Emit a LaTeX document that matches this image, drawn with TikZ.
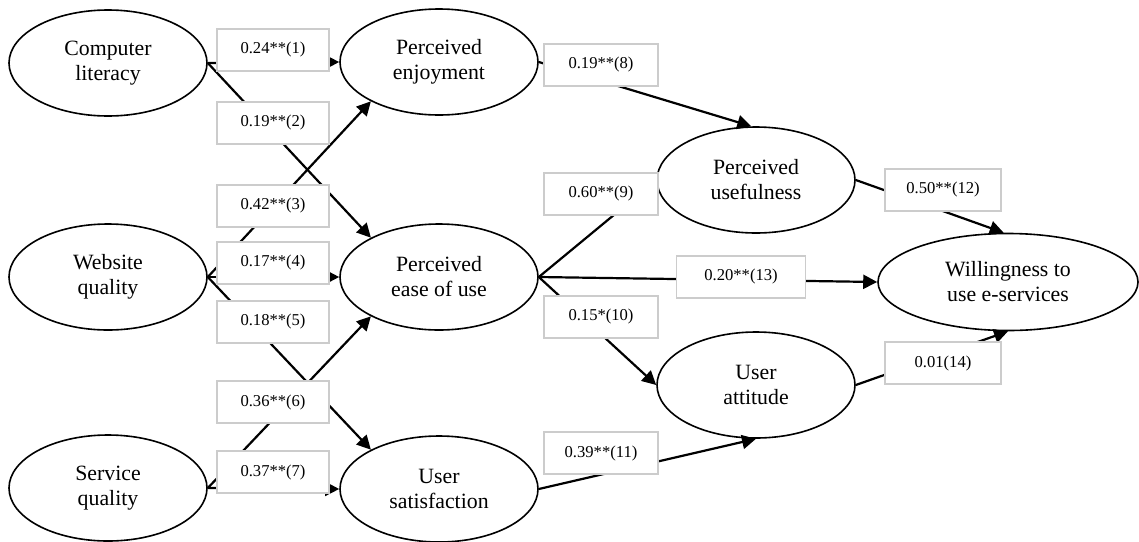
\documentclass[tikz,border=0pt]{standalone}
\usepackage{fontspec}
\setmainfont{Liberation Serif}
\usetikzlibrary{shapes.geometric}
\usetikzlibrary{arrows.meta}
\tikzset{latentvar/.style={ellipse, draw, line width=0.8pt, inner sep=0pt, minimum width=99pt, minimum height=53pt, align=center, font=\fontsize{10.9}{12.5}\selectfont } }
\tikzset{coefbox/.style={draw=black!20, line width=0.8pt, fill=white, inner sep=0pt, minimum width=56pt, minimum height=21pt, font=\fontsize{8.3}{10}\selectfont } }
\tikzset{effect/.style={line width=1.1pt, -{Triangle[length=7pt, width=7pt]} } }

\begin{document}
\begin{tikzpicture}[x=0.5pt, y=-0.5pt]
            \useasboundingbox (0,0) rectangle (1139,541);
            % constructs
            \node [latentvar] (cl) at (108,63) {Computer\\literacy};
            \node [latentvar] (wq) at (108,277) {Website\\quality};
            \node [latentvar] (sq) at (108,488) {Service\\quality};
            \node [latentvar] (pe) at (439,62) {Perceived\\enjoyment};
            \node [latentvar] (peou) at (439,277) {Perceived\\ease of use};
            \node [latentvar] (us) at (439,489) {User\\satisfaction};
            \node [latentvar] (pu) at (756,180) {Perceived\\usefulness};
            \node [latentvar] (ua) at (756,385) {User\\attitude};
            \node [latentvar, minimum width=130pt, minimum height=48.5pt] (wil) at (1008,282) {Willingness to\\use e-services};
            % paths
            \draw [effect] (cl.east)--(pe.west);
            \draw [effect] (cl.east)--(peou.150);
            \draw [effect] (wq.east)--(pe.210);
            \draw [effect] (wq.east)--(peou.west);
            \draw [effect] (wq.east)--(us.150);
            \draw [effect] (sq.east)--(peou.210);
            \draw [effect] (sq.east)--(us.west);
            \draw [effect] (pe.east)--(pu.95);
            \draw [effect] (peou.east)--(pu.west);
            \draw [effect] (peou.east)--(ua.west);
            \draw [effect] (us.east)--(ua.south);
            \draw [effect] (pu.east)--(wil.95);
            \draw [effect] (peou.east)--(wil.west);
            \draw [effect] (ua.east)--(wil.south);
            % coefficients
            \node [coefbox] (c1) at (273,50) {0.24**(1)};
            \node [coefbox] (c2) at (273,123) {0.19**(2)};
            \node [coefbox] (c3) at (273,206) {0.42**(3)};
            \node [coefbox] (c4) at (273,263) {0.17**(4)};
            \node [coefbox] (c5) at (273,322) {0.18**(5)};
            \node [coefbox] (c6) at (273,402) {0.36**(6)};
            \node [coefbox] (c7) at (273,472) {0.37**(7)};
            \node [coefbox, minimum width=57pt] (c8) at (601,65) {0.19**(8)};
            \node [coefbox, minimum width=57pt] (c9) at (601,194) {0.60**(9)};
            \node [coefbox, minimum width=57pt] (c10) at (601,317) {0.15*(10)};
            \node [coefbox, minimum width=57pt] (c11) at (601,453) {0.39**(11)};
            \node [coefbox, minimum width=58pt] (c12) at (943,190) {0.50**(12)};
            \node [coefbox, minimum width=64.5pt] (c13) at (741,277) {0.20**(13)};
            \node [coefbox, minimum width=58pt] (c14) at (943,363) {0.01(14)};
        \end{tikzpicture}
\end{document}
